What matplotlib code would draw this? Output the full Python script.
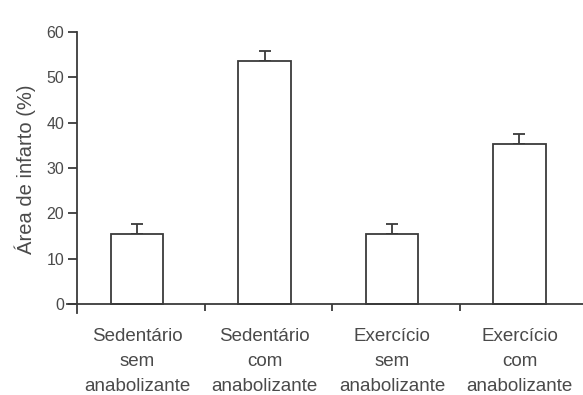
import numpy as np
import matplotlib
matplotlib.use("Agg")
import matplotlib.pyplot as plt

plt.rcParams['font.family'] = ['Liberation Sans', 'DejaVu Sans']

# data
groups = ["Sedentário\nsem\nanabolizante", "Sedentário\ncom\nanabolizante",
          "Exercício\nsem\nanabolizante", "Exercício\ncom\nanabolizante"]
area = [15.5, 53.5, 15.5, 35.2]
err = [2.1, 2.3, 2.1, 2.3]
y_ticks = [0, 10, 20, 30, 40, 50, 60]

ink = '#3a3a3a'
txt = '#4a4a4a'

fig = plt.figure(figsize=(5.83, 3.95), dpi=100)
ax = fig.add_axes([67 / 583, 1 - 313 / 395, 520 / 583, 281 / 395])

x = np.arange(len(groups))
ax.bar(x, area, width=0.41, color='white', edgecolor=ink, linewidth=1.3, zorder=2)
ax.errorbar(x, area, yerr=[np.zeros(len(err)), err], fmt='none', ecolor=ink,
            elinewidth=1.3, capsize=4, capthick=1.3, zorder=1)

ax.set_xlim(-0.55, 3.53)
ax.set_ylim(-2, 60)

for s in ['top', 'right']:
    ax.spines[s].set_visible(False)
ax.spines['left'].set_position(('data', -0.47))
ax.spines['bottom'].set_position(('data', 0))
for s in ['left', 'bottom']:
    ax.spines[s].set_color(ink)
    ax.spines[s].set_linewidth(1.3)

ax.set_yticks(y_ticks)
ax.tick_params(axis='y', direction='out', length=6.5, width=1.3, color=ink,
               labelsize=11.5, labelcolor=txt, pad=3)

# category boundaries as major ticks, names on minor ticks
ax.set_xticks(x[:-1] + 0.53)
ax.set_xticklabels([])
ax.set_xticks(x, minor=True)
ax.set_xticklabels(groups, minor=True)
ax.tick_params(axis='x', which='major', direction='out', length=5, width=1.3, color=ink)
ax.tick_params(axis='x', which='minor', length=0, labelsize=13.5, labelcolor=txt, pad=17)
for lab in ax.get_xticklabels(minor=True):
    lab.set_linespacing(1.62)

ax.set_ylabel('Área de infarto (%)', fontsize=14.5, color=txt)
ax.yaxis.set_label_coords(-0.06, 0.51)

fig.savefig('out.png', dpi=100, facecolor='white')
